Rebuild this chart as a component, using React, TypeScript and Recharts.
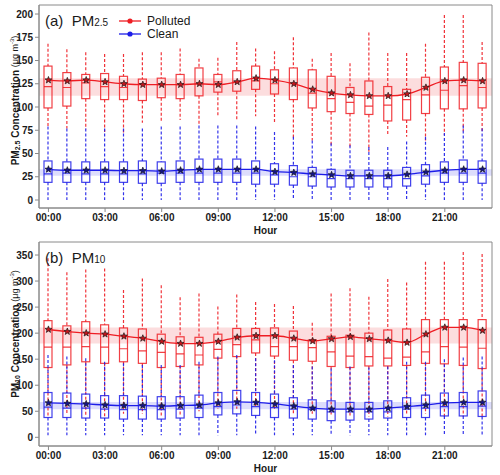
import React from 'react';
import { ComposedChart, Bar, Line, XAxis, YAxis, ReferenceArea } from 'recharts';

const hours = [
  '00:00', '01:00', '02:00', '03:00', '04:00', '05:00', '06:00', '07:00',
  '08:00', '09:00', '10:00', '11:00', '12:00', '13:00', '14:00', '15:00',
  '16:00', '17:00', '18:00', '19:00', '20:00', '21:00', '22:00', '23:00',
];

// (a) PM2.5, polluted days
const pm25PolLow = [78, 77, 76, 73, 72, 83, 84, 86, 81, 90, 86, 90, 84, 67, 64, 59, 56, 52, 70, 68, 64, 70, 74, 74];
const pm25PolQ1 = [99, 101, 109, 108, 108, 107, 110, 109, 112, 116, 117, 119, 114, 108, 99, 95, 93, 92, 85, 86, 93, 98, 98, 99];
const pm25PolMed = [122, 121, 126, 122, 121, 125, 124, 124, 125, 127, 127, 128, 125, 125, 115, 109, 105, 101, 102, 108, 113, 118, 123, 121];
const pm25PolQ3 = [144, 137, 135, 136, 133, 130, 131, 135, 142, 135, 139, 144, 140, 142, 140, 133, 121, 128, 122, 119, 132, 143, 148, 147];
const pm25PolHigh = [168, 162, 159, 157, 157, 159, 159, 163, 152, 153, 170, 163, 160, 175, 152, 158, 147, 180, 158, 158, 168, 199, 199, 170];
const pm25PolMean = [129, 128, 129, 127, 125, 124, 124, 124, 125, 124, 127, 131, 129, 125, 119, 115, 113, 112, 112, 114, 121, 128, 129, 128];

// (a) PM2.5, clean days
const pm25CleanLow = [0, 0, 0, 0, 0, 0, 0, 0, 0, 0, 0, 0, 0, 0, 0, 0, 0, 0, 0, 0, 0, 0, 0, 0];
const pm25CleanQ1 = [19, 19, 19, 19, 19, 18, 18, 19, 19, 19, 19, 17, 17, 16, 15, 14, 14, 14, 14, 15, 17, 19, 19, 18];
const pm25CleanMed = [28, 29, 28, 28, 28, 28, 29, 29, 29, 29, 29, 29, 27, 25, 25, 23, 23, 23, 23, 23, 26, 29, 29, 29];
const pm25CleanQ3 = [42, 41, 41, 41, 41, 42, 41, 42, 44, 44, 44, 42, 39, 37, 35, 33, 32, 32, 32, 35, 38, 41, 43, 42];
const pm25CleanHigh = [79, 77, 77, 77, 77, 77, 79, 79, 80, 80, 80, 79, 73, 68, 64, 61, 59, 57, 57, 63, 68, 72, 80, 77];
const pm25CleanMean = [33, 32, 32, 32, 31.5, 31.5, 31, 32, 33, 33, 33, 33, 30.5, 29.5, 28, 27, 26, 26, 26, 27.5, 30, 32, 33, 33];

// (b) PM10, polluted days
const pm10PolLow = [40, 45, 40, 40, 45, 45, 40, 40, 50, 55, 55, 60, 55, 45, 45, 40, 40, 40, 40, 45, 45, 40, 40, 40];
const pm10PolQ1 = [134, 139, 145, 142, 145, 142, 134, 136, 139, 152, 155, 162, 156, 148, 146, 136, 134, 137, 137, 138, 142, 141, 138, 132];
const pm10PolMed = [173, 173, 174, 173, 170, 166, 163, 160, 158, 169, 178, 187, 174, 174, 172, 164, 156, 155, 152, 154, 164, 174, 173, 171];
const pm10PolQ3 = [224, 214, 222, 216, 210, 208, 198, 193, 192, 198, 209, 209, 210, 204, 187, 194, 196, 200, 206, 208, 226, 226, 226, 226];
const pm10PolHigh = [344, 317, 322, 324, 283, 305, 292, 269, 276, 251, 274, 260, 256, 252, 220, 276, 286, 270, 304, 297, 337, 337, 356, 352];
const pm10PolMean = [207, 203, 200, 198, 194, 190, 184, 180, 180, 184, 192, 195, 195, 190, 185, 189, 193, 189, 186, 182, 198, 211, 211, 205];

// (b) PM10, clean days
const pm10CleanLow = [4, 4, 4, 4, 4, 4, 4, 4, 4, 4, 4, 4, 4, 4, 4, 4, 4, 4, 4, 4, 4, 4, 4, 4];
const pm10CleanQ1 = [38, 38, 37, 37, 35, 35, 35, 37, 38, 43, 45, 42, 38, 37, 35, 32, 33, 35, 37, 38, 38, 41, 41, 40];
const pm10CleanMed = [58, 56, 56, 54, 53, 53, 53, 54, 56, 59, 62, 59, 57, 54, 53, 49, 49, 49, 49, 54, 56, 59, 59, 60];
const pm10CleanQ3 = [86, 85, 83, 80, 80, 79, 78, 78, 81, 86, 90, 86, 83, 76, 72, 70, 67, 67, 70, 76, 81, 85, 86, 89];
const pm10CleanHigh = [158, 155, 152, 145, 142, 139, 139, 139, 145, 155, 158, 152, 148, 139, 136, 132, 136, 134, 136, 145, 145, 150, 153, 155];
const pm10CleanMean = [66, 65, 64, 62, 61, 61, 60, 61, 62, 66, 68, 67, 64, 60, 56, 54, 54, 54, 56, 59, 62, 66, 67, 67];

const RED = '#ee1d23';
const BLUE = '#1d1de8';
const FRAME = '#8a8a8a';
const FONT = '"Liberation Sans", Arial, sans-serif';

type Stats = { low: number[]; q1: number[]; med: number[]; q3: number[]; high: number[]; mean: number[] };

const buildRows = (pol: Stats, clean: Stats) =>
  hours.map((hour, i) => ({
    hour,
    p: { low: pol.low[i], q1: pol.q1[i], med: pol.med[i], q3: pol.q3[i], high: pol.high[i] },
    c: { low: clean.low[i], q1: clean.q1[i], med: clean.med[i], q3: clean.q3[i], high: clean.high[i] },
    pMean: pol.mean[i],
    cMean: clean.mean[i],
  }));

const makeBox = (key: 'p' | 'c', color: string) => (props: any) => {
  const { x, y, width, height, payload } = props;
  const s = payload[key];
  const top = Math.min(y, y + height);
  const bottom = Math.max(y, y + height);
  // map values through the bar's own [low, high] pixel span
  const py = (v: number) => top + ((s.high - v) / (s.high - s.low)) * (bottom - top);
  const cx = x + width / 2;
  return (
    <g>
      <line x1={cx} x2={cx} y1={py(s.high)} y2={py(s.q3)} stroke={color} strokeWidth={1.2} strokeDasharray="3 2" strokeOpacity={0.9} />
      <line x1={cx} x2={cx} y1={py(s.q1)} y2={py(s.low)} stroke={color} strokeWidth={1.2} strokeDasharray="3 2" strokeOpacity={0.9} />
      <rect x={x} y={py(s.q3)} width={width} height={py(s.q1) - py(s.q3)} fill="none" stroke={color} strokeWidth={1.2} strokeOpacity={0.85} />
      <line x1={x} x2={x + width} y1={py(s.med)} y2={py(s.med)} stroke={color} strokeWidth={1.2} strokeOpacity={0.85} />
    </g>
  );
};

const starDot = (fill: string) => (props: any) => {
  const { cx, cy, index } = props;
  if (cx == null || cy == null) return <g key={index} />;
  const pts: string[] = [];
  for (let k = 0; k < 10; k++) {
    const r = k % 2 === 0 ? 3.6 : 1.5;
    const a = -Math.PI / 2 + (k * Math.PI) / 5;
    pts.push(`${cx + r * Math.cos(a)},${cy + r * Math.sin(a)}`);
  }
  return <polygon key={index} points={pts.join(' ')} fill={fill} stroke="#1a1a1a" strokeWidth={0.7} />;
};

const yLabel = (sub: string, shift: number) => (props: any) => {
  const vb = props.viewBox;
  const x = 15;
  const y = vb.y + vb.height / 2 + shift;
  return (
    <text x={x} y={y} transform={`rotate(-90 ${x} ${y})`} textAnchor="middle" dominantBaseline="central" fontSize={10} fontWeight="bold" fill="#1a1a1a">
      PM<tspan fontSize={7} dy={2}>{sub}</tspan>
      <tspan dy={-2}> Concentration </tspan>
      <tspan fontWeight="normal" fontSize={9}>(μg m</tspan>
      <tspan fontWeight="normal" fontSize={6} dy={-3}>-3</tspan>
      <tspan fontWeight="normal" fontSize={9} dy={3}>)</tspan>
    </text>
  );
};

const tickStyle = { fontSize: 10, fontWeight: 'bold' as const, fill: '#1a1a1a' };

function Panel({ pol, clean, domain, ticks, sub, shift, height }: {
  pol: Stats; clean: Stats; domain: [number, number]; ticks: number[]; sub: string; shift: number; height: number;
}) {
  const rows = buildRows(pol, clean);
  return (
    <ComposedChart width={500} height={height} data={rows} margin={{ top: 5, right: 8, left: 0, bottom: 0 }}>
      <XAxis xAxisId="p" dataKey="hour" interval={2} height={29} tick={tickStyle} tickSize={4}
        axisLine={{ stroke: FRAME }} tickLine={{ stroke: FRAME }}
        label={{ value: 'Hour', position: 'insideBottom', offset: 3, fontSize: 10, fontWeight: 'bold', fill: '#1a1a1a' }} />
      <XAxis xAxisId="c" dataKey="hour" orientation="top" height={0} hide />
      <YAxis type="number" domain={domain} ticks={ticks} width={39} tick={tickStyle} tickSize={4}
        axisLine={{ stroke: FRAME }} tickLine={{ stroke: FRAME }} allowDataOverflow label={{ content: yLabel(sub, shift) }} />
      <ReferenceArea xAxisId="p" y1={Math.min(...pol.mean)} y2={Math.max(...pol.mean)} fill={RED} fillOpacity={0.15} stroke="none" />
      <ReferenceArea xAxisId="p" y1={Math.min(...clean.mean)} y2={Math.max(...clean.mean)} fill={BLUE} fillOpacity={0.15} stroke="none" />
      <ReferenceArea xAxisId="p" y1={domain[0]} y2={domain[1]} fill="none" stroke={FRAME} strokeWidth={1} />
      <Bar xAxisId="p" dataKey={(d: any) => [d.p.low, d.p.high]} barSize={8} shape={makeBox('p', RED)} isAnimationActive={false} />
      <Bar xAxisId="c" dataKey={(d: any) => [d.c.low, d.c.high]} barSize={8} shape={makeBox('c', BLUE)} isAnimationActive={false} />
      <Line xAxisId="p" dataKey="pMean" type="monotone" stroke={RED} strokeWidth={1.3} dot={starDot('#c4161c')} activeDot={false} isAnimationActive={false} />
      <Line xAxisId="p" dataKey="cMean" type="monotone" stroke={BLUE} strokeWidth={1.3} dot={starDot('#14148a')} activeDot={false} isAnimationActive={false} />
    </ComposedChart>
  );
}

const legendRow = (color: string, text: string, top: number) => (
  <div style={{ position: 'absolute', left: 119, top, display: 'flex', alignItems: 'center', fontSize: 12, lineHeight: '14px', color: '#1a1a1a' }}>
    <svg width={22} height={8} style={{ marginRight: 6 }}>
      <line x1={0} x2={22} y1={4} y2={4} stroke={color} strokeWidth={1.3} />
      <circle cx={11} cy={4} r={2.6} fill={color} />
    </svg>
    {text}
  </div>
);

export default function App() {
  return (
    <div style={{ position: 'absolute', left: 0, top: 0, width: 500, height: 475, background: '#fff', fontFamily: FONT }}>
      <Panel
        pol={{ low: pm25PolLow, q1: pm25PolQ1, med: pm25PolMed, q3: pm25PolQ3, high: pm25PolHigh, mean: pm25PolMean }}
        clean={{ low: pm25CleanLow, q1: pm25CleanQ1, med: pm25CleanMed, q3: pm25CleanQ3, high: pm25CleanHigh, mean: pm25CleanMean }}
        domain={[-8.6, 209.7]} ticks={[0, 25, 50, 75, 100, 125, 150, 175, 200]} sub="2.5" shift={-6} height={237} />
      <Panel
        pol={{ low: pm10PolLow, q1: pm10PolQ1, med: pm10PolMed, q3: pm10PolQ3, high: pm10PolHigh, mean: pm10PolMean }}
        clean={{ low: pm10CleanLow, q1: pm10CleanQ1, med: pm10CleanMed, q3: pm10CleanQ3, high: pm10CleanHigh, mean: pm10CleanMean }}
        domain={[-16.7, 375]} ticks={[0, 50, 100, 150, 200, 250, 300, 350]} sub="10" shift={-10} height={238} />
      <div style={{ position: 'absolute', left: 45, top: 12, fontSize: 15, lineHeight: '17px', color: '#1a1a1a' }}>
        (a)&nbsp; PM<span style={{ fontSize: 10 }}>2.5</span>
      </div>
      <div style={{ position: 'absolute', left: 45, top: 249, fontSize: 15, lineHeight: '17px', color: '#1a1a1a' }}>
        (b)&nbsp; PM<span style={{ fontSize: 10 }}>10</span>
      </div>
      {legendRow(RED, 'Polluted', 14)}
      {legendRow(BLUE, 'Clean', 27)}
    </div>
  );
}
